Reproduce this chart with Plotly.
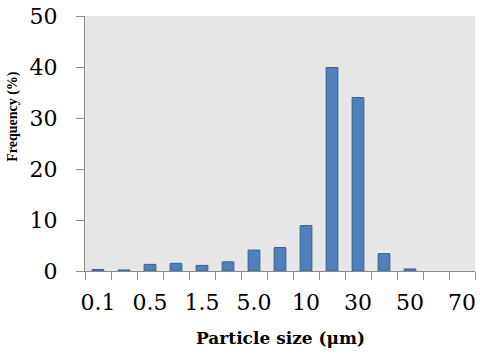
import plotly.graph_objects as go

categories = ["0.1", "0.3", "0.5", "1.0", "1.5", "3.0", "5.0", "7.0", "10", "20", "30", "40", "50", "60", "70"]
frequency = [0.3, 0.2, 1.3, 1.5, 1.1, 1.8, 4.1, 4.6, 8.9, 39.9, 34.0, 3.4, 0.4, 0.0, 0.0]
shown_labels = ["0.1", "", "0.5", "", "1.5", "", "5.0", "", "10", "", "30", "", "50", "", "70"]

tickfont = "DejaVu Serif, serif"
titlefont = "Liberation Serif, DejaVu Serif, serif"

fig = go.Figure()
fig.add_trace(go.Bar(
    x=categories, y=frequency,
    width=0.45,
    marker=dict(color="#4F81BD",
                line=dict(color="#385D8A", width=[1 if v > 0 else 0 for v in frequency])),
))

fig.update_layout(
    width=480, height=362,
    margin=dict(l=85, r=5, t=16, b=91),
    paper_bgcolor="white",
    plot_bgcolor="#E6E6E6",
    showlegend=False,
    font=dict(family=tickfont, color="black"),
)
fig.update_xaxes(
    type="category",
    tickmode="array", tickvals=categories, ticktext=shown_labels,
    tickson="boundaries", tickangle=0,
    ticks="outside", ticklen=8, tickcolor="#8C8C8C", tickwidth=1,
    ticklabelstandoff=12,
    showline=True, linecolor="#8C8C8C", linewidth=1,
    showgrid=False,
    tickfont=dict(size=22, family=tickfont),
)
fig.update_yaxes(
    range=[0, 50], dtick=10,
    ticks="outside", ticklen=8, tickcolor="#8C8C8C", tickwidth=1,
    ticklabelstandoff=14,
    showline=True, linecolor="#8C8C8C", linewidth=1,
    showgrid=False, zeroline=False,
    tickfont=dict(size=22, family=tickfont),
)
fig.add_annotation(
    text="<b>Particle size (μm)</b>",
    xref="paper", yref="paper", x=0.5, y=-0.262,
    xanchor="center", yanchor="middle", showarrow=False,
    font=dict(size=17, family="DejaVu Serif, serif"),
)
fig.add_annotation(
    text="<b>Frequency (%)</b>", textangle=-90,
    xref="paper", yref="paper", x=-0.185, y=0.608,
    xanchor="center", yanchor="middle", showarrow=False,
    font=dict(size=14, family=titlefont),
)

fig.write_html("out.html")
